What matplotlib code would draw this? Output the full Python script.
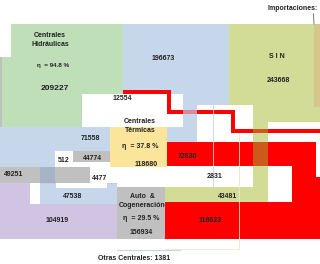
import matplotlib
matplotlib.use("Agg")
import matplotlib.pyplot as plt
from matplotlib.patches import Rectangle, Polygon

# data
nodes = ["Centrales\nHidráulicas", "Centrales\nTérmicas", "Auto  &\nCogeneración", "S I N"]
node_eff = [94.8, 37.8, 29.5]
node_vals = [209227, 118680, 156934, 243668]
flow_vals = [196673, 12554, 71558, 512, 44774, 49251, 4477, 47538, 104919,
             72030, 2831, 43481, 118623]
otras = 1381

plt.rcParams["font.family"] = ["Liberation Sans", "DejaVu Sans"]
fig = plt.figure(figsize=(3.2, 2.64), dpi=100)
ax = fig.add_axes([0, 0, 1, 1])
ax.set_xlim(0, 320)
ax.set_ylim(264, 0)
ax.axis("off")

GREEN = "#bedfb8"
BLUE = "#c6d7ec"
SIN = "#d3dc97"
TAN = "#d6c68c"
YEL = "#fbe59a"
RED = "#ff0000"
GRAY = "#c0c0c0"
PURP = "#d0c4e2"
W = "white"


def box(x0, y0, x1, y1, c, z=1):
    ax.add_patch(Rectangle((x0, y0), x1 - x0, y1 - y0, color=c, lw=0, zorder=z))


def txt(x, y, s, fs=5, ha="center"):
    ax.text(x, y, s, fontsize=fs, fontweight="bold", ha=ha, va="center",
            color="#222222", zorder=10, linespacing=1.3)


# background flows
box(110, 24, 230, 142, BLUE)
box(0, 127, 110, 151, BLUE)
box(0, 151, 55, 167, BLUE)
box(229, 24, 315, 105, SIN)
box(253, 105, 320, 122, SIN)
box(314, 24, 320, 107, TAN)
ax.add_patch(Polygon([(11, 24), (123, 24), (123, 94), (82, 94), (82, 127),
                      (0, 127), (0, 57), (11, 57)], closed=True, color=GREEN, lw=0, zorder=2))
box(0, 57, 2, 127, GRAY, 3)

# white boxes
box(82, 94, 183, 127, W, 3)
box(197, 105, 253, 142, W, 3)
box(230, 133, 320, 142, W, 3)
box(268, 122, 320, 129, W, 3)
box(90, 157, 130, 187, W, 2)
box(90, 167, 253, 187, W, 2)
box(268, 166, 292, 202, W, 2)

# thermal block and neighbours
box(110, 127, 167, 167, YEL, 4)
box(55, 151, 73, 167, W, 3)
box(73, 151, 110, 162, GRAY, 4)
box(0, 167, 90, 183, GRAY, 3)
box(40, 167, 55, 183, "#a6b4c8", 4)

# lower left
box(0, 183, 117, 239, PURP, 2)
box(30, 183, 40, 204, W, 3)
box(40, 184, 117, 204, BLUE, 3)
box(56, 183, 107, 188, W, 4)
box(117, 187, 165, 239, GRAY, 3)

# SIN band to 43481
box(253, 122, 268, 202, SIN, 3)
box(165, 187, 268, 202, SIN, 3)

# red blocks
box(167, 142, 316, 166, RED, 4)
box(292, 142, 316, 202, RED, 4)
box(316, 177, 320, 202, RED, 4)
box(165, 202, 320, 239, RED, 4)
box(253, 142, 268, 166, "#cc5a1a", 5)

# red path
box(123, 90, 171, 94, RED, 5)
box(167, 90, 171, 114, RED, 5)
box(171, 110, 235, 114, RED, 5)
box(183, 110, 197, 114, "#d98aa0", 6)
box(231, 110, 235, 133, RED, 5)
box(231, 129, 320, 133, RED, 5)
box(253, 129, 268, 133, "#cc5a1a", 6)

# thin lines
ax.plot([213, 213], [105, 187], color=BLUE, lw=0.6, zorder=6)
ax.plot([239, 239, 165], [133, 249, 249], color="#e6ebc8", lw=0.6, zorder=6)
ax.plot([117, 180], [250, 250], color=BLUE, lw=0.8, zorder=6)
ax.plot([313.5, 314], [14, 24], color="#5a6a5a", lw=0.6, zorder=6)

# labels
txt(50, 40, nodes[0])
txt(53, 66, "η  = %.1f %%" % node_eff[0], 4.5)
txt(55, 89, str(node_vals[0]), 6)
txt(140, 126, nodes[1])
txt(140, 147, "η  = %.1f %%" % node_eff[1], 5)
txt(146, 164, str(node_vals[1]), 5)
txt(142, 201, nodes[2])
txt(141, 219, "η  = %.1f %%" % node_eff[2], 5)
txt(141, 233, str(node_vals[2]), 5)
txt(277, 56, nodes[3])
txt(278, 81, str(node_vals[3]), 5)
txt(318, 9, "Importaciones:", 5, "right")

pos = [(163, 59), (122, 99), (90, 138), (64, 161), (92, 158), (14, 175), (100, 179),
       (73, 197), (57, 221), (187, 156), (215, 176), (228, 196), (210, 220)]
for (x, y), v in zip(pos, flow_vals):
    txt(x, y, str(v))

txt(134, 259, "Otras Centrales: %d" % otras)

fig.savefig("out.png", dpi=100)
